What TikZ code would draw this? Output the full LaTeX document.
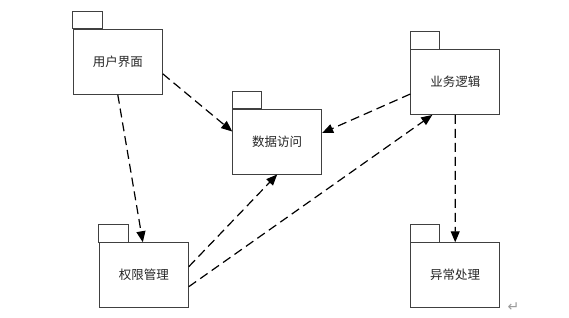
\documentclass[tikz,border=0pt]{standalone}
\usepackage{fontspec}
\newfontfamily\cjk{Noto Sans CJK SC}
\newfontfamily\dejavu{DejaVu Sans}
\usetikzlibrary{arrows.meta}
\begin{document}
\begin{tikzpicture}[x=1pt,y=-1pt,
  pkg/.style={draw=black!75,line width=0.9pt,fill=white,minimum width=89pt,minimum height=65pt,inner sep=0pt,font=\cjk\fontsize{12.5}{14}\selectfont,text=black!85},
  tabbox/.style={draw=black!75,line width=0.9pt},
  dep/.style={line width=1.2pt,dash pattern=on 9pt off 5pt,-{Triangle[length=11pt,width=9pt]}}]
\useasboundingbox (0,0) rectangle (569,317);
\node[pkg] (ui) at (117.8,61.8) {用户界面};
\node[pkg] (da) at (277.2,141.5) {数据访问};
\node[pkg] (yw) at (455.3,82) {业务逻辑};
\node[pkg] (qx) at (143.8,275.2) {权限管理};
\node[pkg] (yc) at (455.2,275.2) {异常处理};
\foreach \n in {ui,da,yw,qx,yc}{
  \draw[tabbox] (\n.north west) rectangle ++(29.5,-17.5);
}
\draw[dep] ([yshift=-12pt]ui.east) -- ([yshift=10pt]da.west);
\draw[dep] (ui.south) -- ([xshift=-1pt]qx.north);
\draw[dep] ([yshift=-12pt]yw.west) -- ([yshift=8.5pt]da.east);
\draw[dep] (yw.south) -- (yc.north);
\draw[dep] ([yshift=8.5pt]qx.east) -- (da.south);
\draw[dep] ([yshift=-11.5pt]qx.east) -- ([xshift=-23pt]yw.south);
\node[font=\dejavu\fontsize{14}{15}\selectfont,text=black!40,inner sep=0pt] (ret) at (513.5,307.5) {↵};
\end{tikzpicture}
\end{document}
